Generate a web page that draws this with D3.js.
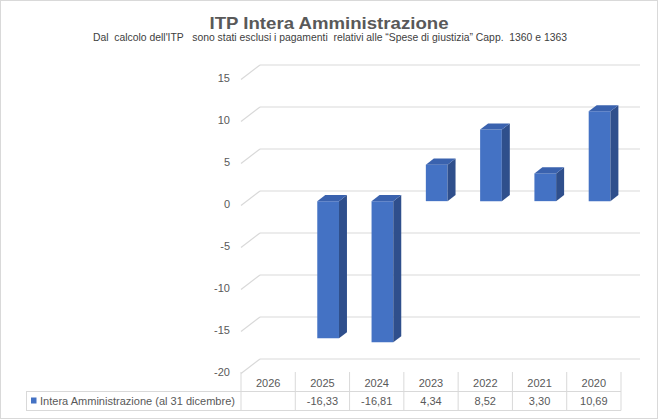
<!DOCTYPE html>
<html><head><meta charset="utf-8">
<script src="https://cdn.jsdelivr.net/npm/d3@7"></script>
<style>body{margin:0;background:#fff}svg{display:block}</style>
</head><body>
<script>
const categories = ["2026","2025","2024","2023","2022","2021","2020"];
const values = [null,-16.33,-16.81,4.34,8.52,3.30,10.69];
const labels = ["","-16,33","-16,81","4,34","8,52","3,30","10,69"];
const yTicks = [-20,-15,-10,-5,0,5,10,15];
const seriesName = "Intera Amministrazione (al 31 dicembre)";
const title = "ITP Intera Amministrazione";
const subtitle = "Dal  calcolo dell'ITP   sono stati esclusi i pagamenti  relativi alle \u201cSpese di giustizia\u201d Capp.  1360 e 1363";

const W=659,H=420;
const svg=d3.select("body").append("svg").attr("width",W).attr("height",H);
const font="'Liberation Sans', Arial, sans-serif";
svg.append("rect").attr("x",0.5).attr("y",0.5).attr("width",657).attr("height",418)
  .attr("fill","#fff").attr("stroke","#d9d9d9");

svg.append("text").attr("x",329).attr("y",29).attr("text-anchor","middle")
  .attr("font-family",font).attr("font-weight","bold").attr("font-size",16.5)
  .attr("fill","#595959").attr("textLength",239).attr("lengthAdjust","spacingAndGlyphs").text(title);
svg.append("text").attr("x",330).attr("y",41).attr("text-anchor","middle")
  .attr("font-family",font).attr("font-size",10.5).style("white-space","pre")
  .attr("fill","#404040").attr("textLength",474).attr("lengthAdjust","spacingAndGlyphs").text(subtitle);

// projection
const DX=19, DY=14.5;
const x=d3.scaleBand().domain(categories).range([241,621]).paddingInner(0).paddingOuter(0);
const yBack=d3.scaleLinear().domain([-20,15]).range([359,65]);
const yF=v=>yBack(v)+DY;
const P=(px,v,d)=>[px+d*DX, yF(v)-d*DY];

const g=svg.append("g");
yTicks.forEach(t=>{
  const a=P(241,t,1), b=P(621,t,1), c=P(241,t,0);
  g.append("line").attr("x1",a[0]).attr("y1",a[1]).attr("x2",b[0]).attr("y2",b[1])
    .attr("stroke","#d9d9d9").attr("stroke-width",1.2);
  g.append("line").attr("x1",c[0]).attr("y1",c[1]).attr("x2",a[0]).attr("y2",a[1])
    .attr("stroke","#d9d9d9").attr("stroke-width",1.2);
  g.append("text").attr("x",230).attr("y",yF(t)+2).attr("text-anchor","end")
    .attr("font-family",font).attr("font-size",11).attr("fill","#595959").text(t);
});

const d0=0.3,d1=0.72,bw=x.bandwidth()*0.4;
categories.forEach((c,i)=>{
  const v=values[i]; if(v==null) return;
  const cx=x(c)+x.bandwidth()/2;
  const xl=cx-bw/2, xr=cx+bw/2;
  const top=Math.max(v,0), bot=Math.min(v,0);
  const fl=P(xl,top,d0), fr=P(xr,top,d0), brr=P(xr,bot,d0);
  const bl=P(xl,top,d1), br=P(xr,top,d1), bb=P(xr,bot,d1);
  g.append("polygon").attr("points",[fl,fr,brr,P(xl,bot,d0)].map(p=>p.join(",")).join(" ")).attr("fill","#4472C4");
  g.append("polygon").attr("points",[fr,br,bb,brr].map(p=>p.join(",")).join(" ")).attr("fill","#2F4F8C");
  g.append("polygon").attr("points",[fl,bl,br,fr].map(p=>p.join(",")).join(" ")).attr("fill","#3A62AE");
});

const tg=svg.append("g");
const stroke="#d9d9d9";
const edges=[x(categories[0])].concat(categories.map(c=>x(c)+x.bandwidth()));
edges.forEach(e=>{
  tg.append("line").attr("x1",e).attr("x2",e).attr("y1",372).attr("y2",410.5).attr("stroke",stroke);
});
tg.append("line").attr("x1",26).attr("x2",621).attr("y1",391.5).attr("y2",391.5).attr("stroke",stroke);
tg.append("line").attr("x1",26).attr("x2",621).attr("y1",410.5).attr("y2",410.5).attr("stroke",stroke);
tg.append("line").attr("x1",26.5).attr("x2",26.5).attr("y1",391.5).attr("y2",410.5).attr("stroke",stroke);
categories.forEach((c,i)=>{
  const cx=x(c)+x.bandwidth()/2;
  tg.append("text").attr("x",cx).attr("y",386.5).attr("text-anchor","middle")
    .attr("font-family",font).attr("font-size",11).attr("fill","#595959").text(c);
  tg.append("text").attr("x",cx).attr("y",404.5).attr("text-anchor","middle")
    .attr("font-family",font).attr("font-size",11).attr("fill","#595959").text(labels[i]);
});
tg.append("rect").attr("x",31).attr("y",397.5).attr("width",5.5).attr("height",6).attr("fill","#4472C4");
tg.append("text").attr("x",40).attr("y",404.5).attr("font-family",font).attr("font-size",11)
  .attr("fill","#595959").attr("textLength",195).attr("lengthAdjust","spacingAndGlyphs").text(seriesName);
</script>
</body></html>
